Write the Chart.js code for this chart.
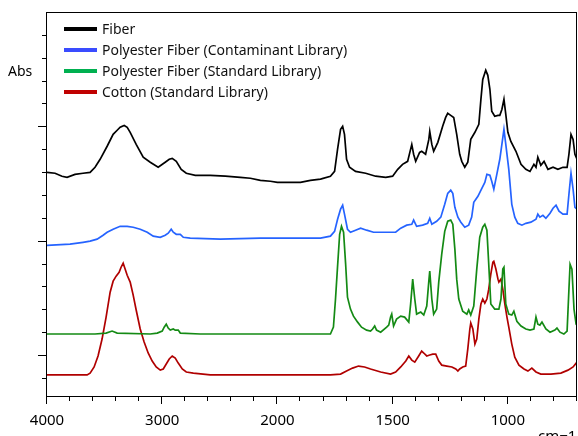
<!DOCTYPE html>
<html>
<head>
<meta charset="utf-8">
<script src="https://cdn.jsdelivr.net/npm/chart.js@4/dist/chart.umd.min.js"></script>
<style>
  html, body { margin: 0; padding: 0; background: #fff; }
  #wrap { width: 578px; height: 436px; }
</style>
</head>
<body>
<div id="wrap"><canvas id="spectra"></canvas></div>
<script>
const seriesLabels = [
    "Fiber",
    "Polyester Fiber (Contaminant Library)",
    "Polyester Fiber (Standard Library)",
    "Cotton (Standard Library)",
];

// wavenumbers (cm-1) and absorbance
const fiberWn = [4000, 3930, 3870, 3826, 3757, 3687, 3626, 3583, 3539, 3478, 3426, 3391, 3365, 3330, 3304, 3278, 3226, 3165, 3104, 3035, 2974, 2939, 2913, 2878, 2835, 2791, 2713, 2583, 2452, 2322, 2235, 2148, 2061, 2000, 1943, 1900, 1857, 1813, 1770, 1752, 1739, 1726, 1717, 1709, 1700, 1687, 1661, 1617, 1574, 1530, 1500, 1478, 1457, 1435, 1417, 1409, 1400, 1383, 1374, 1357, 1343, 1339, 1330, 1322, 1304, 1283, 1270, 1261, 1248, 1235, 1222, 1209, 1200, 1187, 1174, 1161, 1143, 1126, 1117, 1109, 1096, 1087, 1078, 1070, 1057, 1043, 1035, 1026, 1017, 1009, 1000, 987, 965, 943, 922, 904, 887, 878, 870, 857, 843, 826, 804, 783, 761, 743, 735, 726, 717, 709, 700];
const fiberAbs = [0.799, 0.795, 0.782, 0.777, 0.790, 0.795, 0.799, 0.821, 0.856, 0.913, 0.965, 0.983, 0.996, 1.004, 0.996, 0.974, 0.921, 0.865, 0.843, 0.821, 0.843, 0.856, 0.860, 0.847, 0.812, 0.795, 0.786, 0.786, 0.782, 0.777, 0.773, 0.764, 0.760, 0.755, 0.755, 0.755, 0.764, 0.769, 0.782, 0.803, 0.900, 0.987, 1.000, 0.965, 0.856, 0.821, 0.803, 0.795, 0.782, 0.777, 0.782, 0.812, 0.834, 0.847, 0.921, 0.878, 0.847, 0.886, 0.891, 0.878, 0.943, 0.978, 0.921, 0.891, 0.930, 1.000, 1.039, 1.057, 1.048, 1.039, 0.965, 0.878, 0.847, 0.821, 0.843, 0.943, 0.974, 1.009, 1.118, 1.205, 1.245, 1.223, 1.162, 1.066, 1.044, 1.048, 1.048, 1.074, 1.118, 1.052, 0.974, 0.934, 0.891, 0.834, 0.812, 0.803, 0.834, 0.821, 0.865, 0.830, 0.847, 0.812, 0.821, 0.812, 0.821, 0.821, 0.878, 0.965, 0.943, 0.878, 0.856];

const contamWn = [4000, 3800, 3687, 3626, 3565, 3513, 3478, 3426, 3365, 3304, 3252, 3191, 3130, 3078, 3017, 2974, 2948, 2922, 2904, 2878, 2843, 2817, 2757, 2496, 2148, 2000, 1813, 1770, 1752, 1739, 1726, 1717, 1709, 1696, 1683, 1661, 1639, 1613, 1583, 1530, 1487, 1465, 1439, 1417, 1409, 1396, 1370, 1348, 1339, 1330, 1309, 1291, 1274, 1261, 1248, 1239, 1230, 1217, 1204, 1187, 1170, 1157, 1148, 1130, 1113, 1100, 1091, 1078, 1070, 1061, 1048, 1035, 1026, 1017, 1009, 996, 983, 970, 957, 939, 922, 900, 878, 870, 861, 848, 835, 817, 804, 791, 778, 761, 743, 735, 726, 717, 709, 700];
const contamAbs = [0.480, 0.485, 0.493, 0.498, 0.507, 0.524, 0.537, 0.550, 0.563, 0.563, 0.559, 0.550, 0.537, 0.520, 0.515, 0.524, 0.533, 0.550, 0.537, 0.528, 0.528, 0.515, 0.511, 0.507, 0.511, 0.511, 0.511, 0.520, 0.541, 0.594, 0.638, 0.655, 0.616, 0.550, 0.537, 0.546, 0.555, 0.546, 0.537, 0.537, 0.537, 0.555, 0.568, 0.572, 0.590, 0.563, 0.568, 0.576, 0.598, 0.572, 0.585, 0.603, 0.659, 0.707, 0.721, 0.707, 0.646, 0.603, 0.581, 0.559, 0.568, 0.603, 0.668, 0.694, 0.729, 0.755, 0.790, 0.786, 0.760, 0.725, 0.790, 0.856, 0.921, 0.987, 0.921, 0.812, 0.659, 0.603, 0.576, 0.568, 0.576, 0.581, 0.594, 0.616, 0.603, 0.611, 0.598, 0.620, 0.642, 0.655, 0.629, 0.616, 0.616, 0.703, 0.795, 0.725, 0.646, 0.638];

const standardWn = [4000, 3583, 3487, 3435, 3391, 3104, 3043, 3000, 2983, 2965, 2948, 2930, 2904, 2887, 2861, 2843, 2670, 2000, 1770, 1757, 1748, 1739, 1730, 1722, 1713, 1704, 1696, 1683, 1670, 1652, 1635, 1613, 1596, 1587, 1578, 1570, 1552, 1526, 1517, 1509, 1504, 1496, 1483, 1465, 1448, 1430, 1422, 1413, 1404, 1396, 1378, 1365, 1352, 1343, 1339, 1330, 1322, 1309, 1300, 1287, 1274, 1261, 1248, 1239, 1230, 1222, 1213, 1196, 1178, 1170, 1161, 1148, 1135, 1122, 1109, 1100, 1091, 1083, 1074, 1057, 1039, 1030, 1022, 1017, 1009, 996, 983, 974, 961, 943, 922, 904, 887, 878, 870, 861, 852, 835, 817, 796, 787, 774, 757, 743, 735, 730, 722, 713, 704, 700];
const standardAbs = [0.092, 0.092, 0.096, 0.105, 0.096, 0.092, 0.096, 0.105, 0.122, 0.135, 0.118, 0.109, 0.114, 0.109, 0.109, 0.096, 0.092, 0.092, 0.092, 0.122, 0.245, 0.389, 0.528, 0.563, 0.537, 0.397, 0.253, 0.201, 0.170, 0.144, 0.122, 0.109, 0.105, 0.114, 0.127, 0.109, 0.100, 0.122, 0.131, 0.166, 0.179, 0.127, 0.157, 0.170, 0.166, 0.144, 0.223, 0.332, 0.245, 0.179, 0.188, 0.175, 0.214, 0.323, 0.367, 0.245, 0.179, 0.201, 0.319, 0.441, 0.541, 0.585, 0.590, 0.572, 0.463, 0.332, 0.245, 0.192, 0.179, 0.197, 0.175, 0.214, 0.376, 0.515, 0.559, 0.572, 0.546, 0.397, 0.223, 0.201, 0.201, 0.245, 0.376, 0.384, 0.223, 0.179, 0.175, 0.192, 0.148, 0.127, 0.114, 0.109, 0.114, 0.166, 0.135, 0.131, 0.144, 0.114, 0.100, 0.109, 0.118, 0.100, 0.092, 0.105, 0.288, 0.397, 0.376, 0.201, 0.135, 0.131];

const cottonWn = [4000, 3652, 3626, 3591, 3557, 3522, 3487, 3452, 3426, 3400, 3374, 3357, 3339, 3322, 3304, 3278, 3252, 3226, 3191, 3157, 3122, 3087, 3052, 3017, 2991, 2965, 2939, 2913, 2887, 2861, 2826, 2791, 2730, 2583, 2000, 1770, 1726, 1700, 1674, 1648, 1622, 1596, 1552, 1509, 1487, 1465, 1443, 1430, 1417, 1404, 1387, 1374, 1365, 1352, 1339, 1326, 1313, 1300, 1287, 1265, 1243, 1226, 1217, 1209, 1196, 1183, 1174, 1165, 1161, 1152, 1143, 1135, 1126, 1117, 1109, 1100, 1091, 1083, 1074, 1065, 1061, 1052, 1043, 1039, 1030, 1022, 1013, 1004, 996, 983, 970, 952, 930, 913, 896, 878, 857, 813, 770, 739, 717, 700];
const cottonAbs = [-0.087, -0.087, -0.079, -0.052, -0.004, 0.070, 0.166, 0.275, 0.323, 0.345, 0.362, 0.384, 0.402, 0.376, 0.349, 0.319, 0.262, 0.197, 0.114, 0.057, 0.009, -0.026, -0.052, -0.066, -0.061, -0.039, -0.017, -0.004, -0.013, -0.035, -0.061, -0.074, -0.079, -0.087, -0.087, -0.087, -0.083, -0.070, -0.057, -0.048, -0.052, -0.061, -0.074, -0.083, -0.074, -0.052, -0.026, -0.004, -0.022, -0.031, -0.004, 0.017, 0.009, -0.004, 0.000, 0.004, 0.004, -0.026, -0.044, -0.048, -0.052, -0.061, -0.070, -0.061, -0.052, -0.048, 0.026, 0.114, 0.140, 0.114, 0.048, 0.070, 0.157, 0.223, 0.245, 0.227, 0.245, 0.288, 0.354, 0.406, 0.410, 0.376, 0.332, 0.319, 0.332, 0.288, 0.223, 0.166, 0.122, 0.048, -0.009, -0.044, -0.061, -0.070, -0.057, -0.074, -0.083, -0.083, -0.079, -0.066, -0.052, -0.031];

const xTickValues = [4000, 3000, 2000, 1500, 1000];

const lineColors = ["#000000", "#2563ff", "#148a14", "#b00000"];
const legendColors = ["#000000", "#3a4cff", "#00b050", "#c00000"];
const FONT = '"Noto Sans", sans-serif';

// the wavenumber axis is compressed 2x above 2000 cm-1
function toAxis(w) {
    return w >= 2000 ? (4000 - w) / 2 : 1000 + (2000 - w);
}
function fromAxis(u) {
    return u <= 1000 ? 4000 - u * 2 : 2000 - (u - 1000);
}

function makeSeries(wn, abs) {
    return wn.map((w, i) => ({ x: toAxis(w), y: abs[i] }));
}

const seriesData = [
    makeSeries(fiberWn, fiberAbs),
    makeSeries(contamWn, contamAbs),
    makeSeries(standardWn, standardAbs),
    makeSeries(cottonWn, cottonAbs),
];

const frame = {
    id: "frame",
    afterDraw(chart) {
        const { ctx, chartArea: a, scales } = chart;
        ctx.save();
        ctx.strokeStyle = "#000";
        ctx.lineWidth = 1;
        ctx.strokeRect(Math.round(a.left) - 0.5, Math.round(a.top) + 0.5, Math.round(a.right - a.left), Math.round(a.bottom - a.top));

        ctx.beginPath();
        for (let i = -1; i <= 14; i++) {
            const py = Math.round(scales.y.getPixelForValue(i / 10)) + 0.5;
            const len = i % 5 === 0 ? 9 : 5;
            ctx.moveTo(a.left - len, py);
            ctx.lineTo(a.left, py);
        }
        for (let u = 0; u <= 2300; u += 100) {
            const px = Math.round(scales.x.getPixelForValue(u)) - 0.5;
            const len = u % 500 === 0 ? 8 : 5;
            ctx.moveTo(px, a.bottom);
            ctx.lineTo(px, a.bottom + len);
        }
        ctx.stroke();

        // legend
        ctx.font = "14px " + FONT;
        ctx.textBaseline = "middle";
        chart.data.datasets.forEach((ds, i) => {
            const y = 29 + i * 21;
            ctx.fillStyle = legendColors[i];
            ctx.fillRect(64, y - 2, 33, 4);
            ctx.fillStyle = "#111";
            ctx.fillText(ds.label, 102, y + 1);
        });

        ctx.fillStyle = "#000";
        ctx.font = "14px " + FONT;
        ctx.fillText("Abs", 8, 72);
        ctx.font = "15px " + FONT;
        ctx.textBaseline = "alphabetic";
        ctx.fillText("cm\u22121", 538, 441);
        ctx.restore();
    },
};

new Chart(document.getElementById("spectra"), {
    type: "line",
    data: {
        datasets: seriesData.map((data, i) => ({
            label: seriesLabels[i],
            data,
            borderColor: lineColors[i],
            borderWidth: 1.7,
            pointRadius: 0,
            fill: false,
            tension: 0,
        })),
    },
    options: {
        responsive: true,
        maintainAspectRatio: false,
        animation: false,
        layout: { padding: { top: 12, right: 1 } },
        plugins: { legend: { display: false }, tooltip: { enabled: false } },
        scales: {
            x: {
                type: "linear",
                min: 0,
                max: 2300,
                grid: { display: false },
                border: { display: false },
                afterFit: (s) => { s.height = 40; },
                afterBuildTicks: (s) => {
                    s.ticks = xTickValues.map((w) => ({ value: toAxis(w) }));
                },
                ticks: {
                    autoSkip: false,
                    maxRotation: 0,
                    padding: 8,
                    color: "#000",
                    font: { family: FONT, size: 15 },
                    callback: (u) => String(fromAxis(u)),
                },
            },
            y: {
                min: -0.179,
                max: 1.5,
                grid: { display: false },
                border: { display: false },
                ticks: { display: false },
                afterFit: (s) => { s.width = 47; },
            },
        },
    },
    plugins: [frame],
});
</script>
</body>
</html>
